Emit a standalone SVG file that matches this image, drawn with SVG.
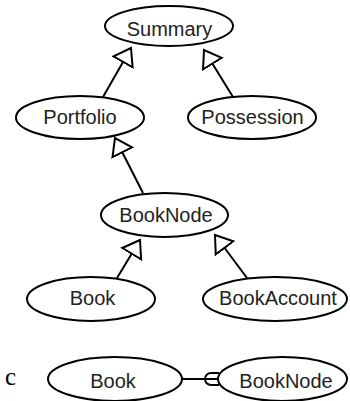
<svg xmlns="http://www.w3.org/2000/svg" width="350" height="401" viewBox="0 0 350 401">
  <style>
    .node ellipse { fill: #ffffff; stroke: #000000; stroke-width: 2; }
    .node text { font-family: "Liberation Sans", Arial, sans-serif; font-size: 20px; fill: #222222; text-anchor: middle; }
    .edge { stroke: #000000; stroke-width: 2; fill: none; }
    .gen { marker-end: url(#hollow); }
    .caption { font-family: "Liberation Serif", "Times New Roman", serif; font-size: 25px; fill: #000000; }
  </style>
  <defs>
    <!-- hollow triangle for generalisation links -->
    <marker id="hollow" markerUnits="userSpaceOnUse" viewBox="-1 -13 19 26" refX="16" refY="0" markerWidth="19" markerHeight="26" orient="auto">
      <path d="M16,0 L0,-11 L0,11 Z" fill="#ffffff" stroke="#000000" stroke-width="2" stroke-linejoin="miter"/>
    </marker>
  </defs>

  <rect width="350" height="401" fill="#ffffff"/>

  <g id="connectors">
    <line class="edge gen" x1="103" y1="97" x2="131" y2="48"/>
    <line class="edge gen" x1="233" y1="97" x2="204" y2="50"/>
    <line class="edge gen" x1="143" y1="193" x2="115" y2="138"/>
    <line class="edge gen" x1="117" y1="278" x2="140" y2="240"/>
    <line class="edge gen" x1="247" y1="278" x2="215" y2="235"/>
    <!-- membership link between the bottom pair -->
    <line class="edge" x1="182" y1="379" x2="219" y2="379"/>
    <path class="edge" d="M219,373 L211,373 A6,6 0 0 0 211,385 L219,385"/>
  </g>

  <g id="summary" class="node">
    <ellipse cx="169" cy="26" rx="64" ry="20"/>
    <text x="169.5" y="36">Summary</text>
  </g>
  <g id="portfolio" class="node">
    <ellipse cx="80" cy="117.5" rx="64" ry="21.5"/>
    <text x="80" y="124">Portfolio</text>
  </g>
  <g id="possession" class="node">
    <ellipse cx="252" cy="117.5" rx="64" ry="21.5"/>
    <text x="252.5" y="124">Possession</text>
  </g>
  <g id="booknode" class="node">
    <ellipse cx="164.5" cy="215" rx="63.5" ry="22"/>
    <text x="166" y="222">BookNode</text>
  </g>
  <g id="book" class="node">
    <ellipse cx="91" cy="299" rx="64" ry="22"/>
    <text x="92.5" y="305">Book</text>
  </g>
  <g id="bookaccount" class="node">
    <ellipse cx="275" cy="299" rx="72" ry="22"/>
    <text x="278" y="305">BookAccount</text>
  </g>

  <text class="caption" x="5" y="385">c</text>

  <g id="book-2" class="node">
    <ellipse cx="115" cy="379" rx="67" ry="22"/>
    <text x="113" y="388">Book</text>
  </g>
  <g id="booknode-2" class="node">
    <ellipse cx="282.5" cy="379" rx="64.5" ry="22"/>
    <text x="286" y="388">BookNode</text>
  </g>
</svg>
